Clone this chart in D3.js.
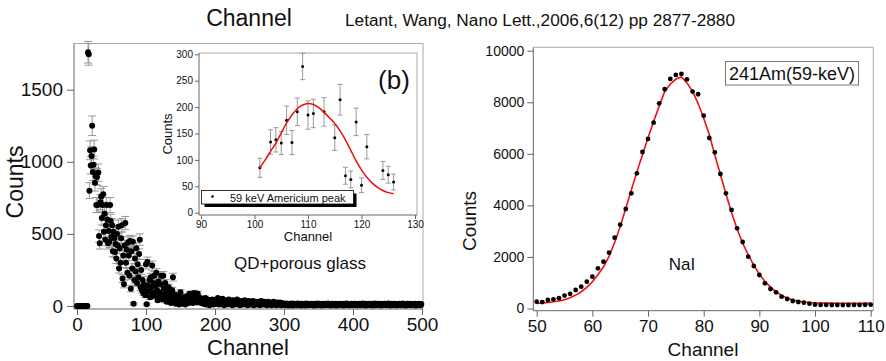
<!DOCTYPE html>
<html>
<head>
<meta charset="utf-8">
<script src="https://cdn.jsdelivr.net/npm/d3@7"></script>
<style>
  body { margin: 0; background: #fff; }
  text { font-family: Arial, "Liberation Sans", Helvetica, sans-serif; fill: #111; }
</style>
</head>
<body>
<svg id="chart" width="886" height="361"></svg>
<script>
// ---- left panel: QD + porous glass spectrum, one value per channel ----
const qdCountsHead = [
  0, 0, 0, 0, 0, 0, 0, 0, 0, 0, 0, 0, 0, 0, 0, 0, 1760, 1745, 800, 1080,
  975, 1040, 1250, 930, 980, 1085, 855, 900, 700, 895, 700, 925, 485, 435, 720, 760, 610, 700, 775, 515,
  640, 460, 560, 700, 600, 435, 520, 445, 700, 590, 480, 560, 380, 515, 470, 375, 430, 330, 500, 420,
  550, 260, 400, 300, 470, 560, 190, 350, 150, 420, 575, 300, 390, 230, 440, 350, 210, 450, 120, 380,
  260, 445, 15, 180, 330, 240, 400, 160, 290, 200, 360, 460, 130, 250, 110, 180, 90, 150, 120, 75,
  290, 12, 305, 140, 100, 180, 60, 200, 130, 280, 90, 160, 210, 70, 140, 230, 110, 40, 170, 95,
  60, 150, 210, 80, 45, 210, 120, 60, 160, 90, 30, 100, 70, 130, 40, 95, 20, 60, 110, 200,
  50, 30, 80, 15, 60, 40, 25, 70, 10, 50, 95, 30, 15, 45, 20, 60, 35, 10, 50, 25,
  70, 40, 20, 85, 55, 30, 75, 45, 20, 60, 90, 35, 65, 50, 25, 85, 40, 60, 30, 45,
  20, 50, 35, 15, 40, 25, 55, 10, 30, 45, 20, 35, 5, 40, 25, 15, 45, 30, 10, 35
];
const qdErrorsHead = [
  0, 0, 0, 0, 0, 0, 0, 0, 0, 0, 0, 0, 0, 0, 0, 0, 75, 75, 55, 65,
  60, 65, 68, 60, 60, 65, 58, 58, 52, 58, 52, 60, 42, 40, 52, 54, 48, 52, 54, 44,
  48, 42, 46, 52, 48, 40, 44, 40, 52, 46, 42, 46, 38, 44, 42, 38, 40, 35, 42, 38,
  46, 32, 38, 33, 42, 46, 27, 36, 24, 38, 46, 33, 38, 30, 40, 36, 28, 40, 22, 38,
  32, 40, 8, 26, 35, 30, 38, 25, 33, 27, 36, 40, 22, 30, 20, 26, 18, 24, 22, 16,
  33, 7, 34, 23, 20, 26, 15, 27, 22, 32, 18, 25, 28, 16, 23, 29, 20, 12, 25, 19,
  15, 24, 28, 17, 13, 28, 21, 15, 24, 18, 10, 19, 16, 22, 12, 19, 8, 15, 20, 27,
  14, 10, 17, 7, 15, 12, 9, 16, 6, 13, 19, 10, 7, 12, 8, 15, 11, 6, 13, 9,
  16, 12, 8, 17, 14, 10, 16, 12, 8, 15, 18, 11, 15, 13, 9, 17, 12, 15, 10, 12,
  8, 13, 11, 7, 12, 9, 14, 6, 10, 12, 8, 11, 4, 12, 9, 7, 12, 10, 6, 11
];
const qdCountsTail = [
  25, 40, 15, 30, 55, 20, 10, 35, 45, 25, 15, 50, 30, 5, 35, 20, 40, 25, 10, 30,
  45, 20, 15, 35, 25, 5, 40, 30, 20, 10, 35, 25, 45, 15, 30, 20, 5, 25, 35, 15,
  30, 10, 20, 40, 25, 15, 30, 5, 20, 35, 25, 10, 30, 20, 15, 35, 5, 25, 20, 30,
  10, 25, 15, 30, 20, 5, 25, 35, 15, 20, 10, 30, 20, 15, 25, 5, 20, 30, 10, 25,
  15, 20, 5, 25, 15, 30, 10, 20, 15, 5, 25, 15, 20, 10, 25, 15, 5, 20, 10, 15,
  8, 15, 5, 12, 18, 10, 3, 14, 9, 16, 6, 11, 17, 4, 13, 8, 15, 10, 5, 12,
  18, 7, 14, 9, 3, 16, 11, 6, 13, 8, 15, 4, 10, 17, 7, 12, 5, 14, 9, 11,
  16, 6, 13, 8, 3, 15, 10, 12, 5, 17, 9, 14, 7, 11, 4, 16, 8, 13, 6, 10,
  15, 5, 12, 9, 17, 7, 14, 3, 11, 8, 16, 10, 6, 13, 9, 15, 4, 12, 7, 14,
  11, 5, 16, 8, 13, 10, 3, 15, 9, 12, 6, 17, 7, 14, 11, 4, 13, 8, 16, 10,
  5, 12, 9, 15, 7, 14, 3, 11, 8, 16, 10, 6, 13, 9, 17, 5, 12, 8, 15, 4,
  14, 11, 7, 16, 9, 13, 6, 10, 15, 3, 12, 8, 17, 5, 14, 11, 9, 16, 7, 13,
  4, 15, 10, 6, 12, 9, 16, 8, 14, 5, 11, 17, 7, 13, 3, 15, 10, 12, 6, 9,
  16, 8, 14, 4, 11, 13, 7, 15, 10, 5, 12, 9, 17, 6, 14, 8, 11, 3, 16, 10,
  13, 7, 15, 5, 12, 9, 14, 6, 11, 8, 16, 4, 13, 10, 7, 15, 9, 12, 5, 14
];
const qdXTicks = [0, 100, 200, 300, 400, 500];
const qdYTicks = [0, 500, 1000, 1500];

// ---- inset (b): 59 keV Americium peak ----
const amChannels = [101, 103, 104, 105, 106, 107, 108, 109, 110, 111, 113, 115, 116, 117, 118, 119, 120, 121, 124, 125, 126];
const amCounts   = [85, 134, 138, 132, 175, 133, 191, 277, 185, 188, 191, 142, 214, 70, 63, 172, 52, 125, 80, 72, 58];
const amErrors   = [18, 23, 23, 22, 27, 23, 26, 25, 27, 27, 27, 24, 29, 16, 16, 26, 14, 23, 17, 16, 15];
const amFitChannels = [101, 102, 103, 104, 105, 106, 107, 108, 109, 110, 111, 112, 113, 114, 115, 116, 117, 118, 119, 120, 121, 122, 123, 124, 125, 126];
const amFitCounts   = [85, 100, 116, 132, 151, 170, 185, 197, 204, 207, 205, 199, 190, 180, 169, 155, 138, 118, 98, 81, 67, 56, 48, 42, 38, 36];
const amXTicks = [90, 100, 110, 120, 130];
const amYTicks = [0, 50, 100, 150, 200, 250, 300];

// ---- right panel: NaI, 241Am (59 keV) ----
const naiChannels = [50, 51, 52, 53, 54, 55, 56, 57, 58, 59, 60, 61, 62, 63, 64, 65, 66, 67, 68, 69, 70,
  71, 72, 73, 74, 75, 76, 77, 78, 79, 80, 81, 82, 83, 84, 85, 86, 87, 88, 89, 90,
  91, 92, 93, 94, 95, 96, 97, 98, 99, 100, 101, 102, 103, 104, 105, 106, 107, 108, 109, 110];
const naiCounts = [264, 250, 330, 356, 400, 500, 570, 718, 845, 1040, 1235, 1558, 1817, 2166, 2748, 3253, 3860, 4468, 5245, 6071, 6576,
  7210, 7960, 8504, 8905, 9060, 9100, 8890, 8413, 8310, 7480, 6614, 6058, 5218, 4468, 3822, 3110, 2580, 2011, 1649, 1300,
  977, 757, 627, 460, 368, 291, 252, 226, 187, 148, 140, 140, 135, 135, 135, 135, 140, 140, 145, 150];
const naiFit = [200, 215, 235, 260, 290, 340, 420, 520, 650, 820, 1040, 1310, 1620, 2020, 2560, 3180, 3880, 4600, 5300, 5960, 6620,
  7250, 7850, 8420, 8700, 8900, 8980, 8750, 8420, 7950, 7380, 6750, 5950, 5200, 4440, 3720, 3080, 2530, 2080, 1680, 1330,
  1050, 830, 650, 510, 410, 330, 280, 250, 230, 220, 215, 210, 210, 205, 205, 205, 200, 200, 200, 200];
const naiXTicks = [50, 60, 70, 80, 90, 100, 110];
const naiYTicks = [0, 2000, 4000, 6000, 8000, 10000];

const svg = d3.select('#chart');
const axisGray = '#666';
const frameGray = '#aaa';
const barGray = '#999';

function styleAxis(g, fontSize) {
  g.select('.domain').attr('stroke', axisGray);
  g.selectAll('.tick line').attr('stroke', axisGray);
  g.selectAll('.tick text').attr('font-size', fontSize).attr('fill', '#222')
    .attr('font-family', 'Arial, "Liberation Sans", sans-serif');
}

function frame(x0, x1, y0, y1) {
  svg.append('path')
    .attr('d', `M${x0},${y0}H${x1}V${y1}`)
    .attr('fill', 'none').attr('stroke', frameGray).attr('stroke-width', 1);
}

function errorBars(g, pts, x, y, cap, color) {
  const eb = g.selectAll(null).data(pts.filter(d => d.e > 0)).enter().append('g')
    .attr('stroke', color).attr('stroke-width', 1);
  eb.append('line')
    .attr('x1', d => x(d.x)).attr('x2', d => x(d.x))
    .attr('y1', d => y(d.y - d.e)).attr('y2', d => y(d.y + d.e));
  eb.append('line')
    .attr('x1', d => x(d.x) - cap).attr('x2', d => x(d.x) + cap)
    .attr('y1', d => y(d.y + d.e)).attr('y2', d => y(d.y + d.e));
  eb.append('line')
    .attr('x1', d => x(d.x) - cap).attr('x2', d => x(d.x) + cap)
    .attr('y1', d => y(d.y - d.e)).attr('y2', d => y(d.y - d.e));
}

// ================= left panel =================
const qdX = d3.scaleLinear().domain([0, 500]).range([77, 422]);
const qdY = d3.scaleLinear().domain([0, 1500]).range([306, 89.7]);
const qdPoints = qdCountsHead.map((v, i) => ({x: i, y: v, e: qdErrorsHead[i]}))
  .concat(qdCountsTail.map((v, i) => ({x: qdCountsHead.length + i, y: v, e: 0})));

frame(74, 423, 43.5, 309);
const qdLeft = svg.append('g').attr('transform', 'translate(74,0)')
  .call(d3.axisLeft(qdY).tickValues(qdYTicks).tickFormat(d3.format('d')).tickSize(7).tickSizeOuter(0).tickPadding(4));
qdLeft.select('.domain').attr('d', 'M0,43.5V309');
styleAxis(qdLeft, 19);
const qdBottom = svg.append('g').attr('transform', 'translate(0,309)')
  .call(d3.axisBottom(qdX).tickValues(qdXTicks).tickSize(6).tickSizeOuter(0).tickPadding(3));
qdBottom.select('.domain').attr('d', 'M74,0H423');
styleAxis(qdBottom, 19);

const qdG = svg.append('g');
errorBars(qdG, qdPoints, qdX, qdY, 4, barGray);
qdG.selectAll('circle').data(qdPoints).enter().append('circle')
  .attr('cx', d => qdX(d.x)).attr('cy', d => qdY(d.y)).attr('r', 3).attr('fill', '#000');

svg.append('text').attr('x', 248).attr('y', 355).attr('text-anchor', 'middle')
  .attr('font-size', 22).text('Channel');
svg.append('text').attr('transform', 'translate(23,182) rotate(-90)').attr('text-anchor', 'middle')
  .attr('font-size', 23).text('Counts');
svg.append('text').attr('x', 300).attr('y', 269).attr('text-anchor', 'middle')
  .attr('font-size', 17).text('QD+porous glass');

// ================= inset =================
const amX = d3.scaleLinear().domain([90, 130]).range([201, 415]);
const amY = d3.scaleLinear().domain([0, 300]).range([212.7, 54.3]);
frame(199, 417, 53, 215);
const amLeft = svg.append('g').attr('transform', 'translate(199,0)')
  .call(d3.axisLeft(amY).tickValues(amYTicks).tickSize(4).tickSizeOuter(0).tickPadding(2));
amLeft.select('.domain').attr('d', 'M0,53V215');
styleAxis(amLeft, 10);
const amBottom = svg.append('g').attr('transform', 'translate(0,215)')
  .call(d3.axisBottom(amX).tickValues(amXTicks).tickSize(4).tickSizeOuter(0).tickPadding(2));
amBottom.select('.domain').attr('d', 'M199,0H417');
styleAxis(amBottom, 10);

const amPoints = amChannels.map((c, i) => ({x: c, y: amCounts[i], e: amErrors[i]}));
const amG = svg.append('g');
errorBars(amG, amPoints, amX, amY, 2.5, barGray);
svg.append('path')
  .attr('d', d3.line().curve(d3.curveMonotoneX)
    .x((c, i) => amX(c)).y((c, i) => amY(amFitCounts[i]))(amFitChannels))
  .attr('fill', 'none').attr('stroke', '#e8100c').attr('stroke-width', 1.5);
amG.selectAll('circle').data(amPoints).enter().append('circle')
  .attr('cx', d => amX(d.x)).attr('cy', d => amY(d.y)).attr('r', 1.5).attr('fill', '#000');

svg.append('text').attr('x', 308).attr('y', 241).attr('text-anchor', 'middle')
  .attr('font-size', 13).text('Channel');
svg.append('text').attr('transform', 'translate(172,134) rotate(-90)').attr('text-anchor', 'middle')
  .attr('font-size', 13).text('Counts');
svg.append('text').attr('x', 394).attr('y', 89).attr('text-anchor', 'middle')
  .attr('font-size', 26).text('(b)');

// legend with drop shadow
svg.append('rect').attr('x', 204.5).attr('y', 193.5).attr('width', 152).attr('height', 13.5).attr('fill', '#000');
svg.append('rect').attr('x', 201.5).attr('y', 190.5).attr('width', 152).attr('height', 13.5)
  .attr('fill', '#fff').attr('stroke', '#000').attr('stroke-width', 0.8);
svg.append('circle').attr('cx', 212.5).attr('cy', 196.5).attr('r', 1.3).attr('fill', '#000');
svg.append('text').attr('x', 230).attr('y', 201.5).attr('font-size', 11).text('59 keV Americium peak');

// ================= right panel =================
const naiX = d3.scaleLinear().domain([50, 110]).range([536.7, 870.7]);
const naiY = d3.scaleLinear().domain([0, 10000]).range([308.5, 50.7]);
frame(533.3, 873.3, 47.3, 310.7);
const naiLeft = svg.append('g').attr('transform', 'translate(533.3,0)')
  .call(d3.axisLeft(naiY).tickValues(naiYTicks).tickFormat(d3.format('d')).tickSize(6).tickSizeOuter(0).tickPadding(3));
naiLeft.select('.domain').attr('d', 'M0,47.3V310.7');
styleAxis(naiLeft, 14);
const naiBottom = svg.append('g').attr('transform', 'translate(0,310.7)')
  .call(d3.axisBottom(naiX).tickValues(naiXTicks).tickSize(6).tickSizeOuter(0).tickPadding(3));
naiBottom.select('.domain').attr('d', 'M533.3,0H873.3');
styleAxis(naiBottom, 17);

svg.append('path')
  .attr('d', d3.line().x((c, i) => naiX(c)).y((c, i) => naiY(naiFit[i]))(naiChannels))
  .attr('fill', 'none').attr('stroke', '#f01010').attr('stroke-width', 1.6);
svg.append('g').selectAll('circle').data(naiChannels).enter().append('circle')
  .attr('cx', c => naiX(c)).attr('cy', (c, i) => naiY(naiCounts[i])).attr('r', 2.4).attr('fill', '#000');

svg.append('text').attr('x', 703).attr('y', 356).attr('text-anchor', 'middle')
  .attr('font-size', 19).text('Channel');
svg.append('text').attr('transform', 'translate(476,221) rotate(-90)').attr('text-anchor', 'middle')
  .attr('font-size', 19).text('Counts');
svg.append('text').attr('x', 682).attr('y', 270).attr('text-anchor', 'middle')
  .attr('font-size', 17).text('NaI');
svg.append('rect').attr('x', 725.5).attr('y', 61.5).attr('width', 133).attr('height', 23.5)
  .attr('fill', '#fff').attr('stroke', '#777').attr('stroke-width', 1);
svg.append('text').attr('x', 792).attr('y', 80).attr('text-anchor', 'middle')
  .attr('font-size', 18).text('241Am(59-keV)');

// ================= header =================
svg.append('text').attr('x', 249).attr('y', 26).attr('text-anchor', 'middle')
  .attr('font-size', 23).text('Channel');
svg.append('text').attr('x', 345).attr('y', 26)
  .attr('font-size', 16).attr('textLength', 390).attr('lengthAdjust', 'spacingAndGlyphs')
  .text('Letant, Wang, Nano Lett.,2006,6(12) pp 2877-2880');
</script>
</body>
</html>
